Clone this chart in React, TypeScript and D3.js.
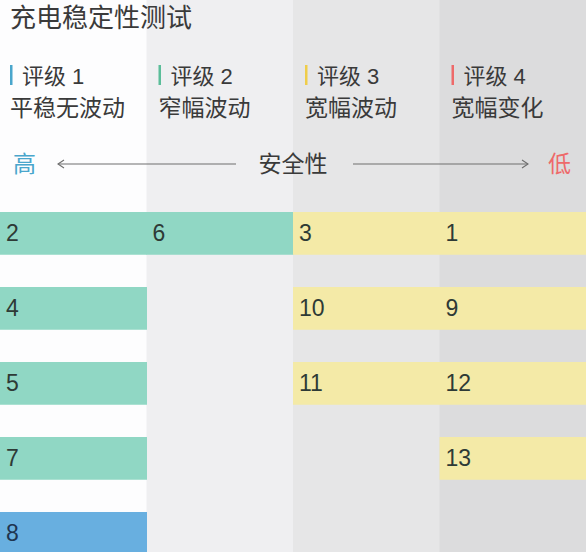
import { useEffect, useRef } from 'react';
import * as d3 from 'd3';

const title = '充电稳定性测试';
const ratings = ['评级 1', '评级 2', '评级 3', '评级 4'];
const descriptions = ['平稳无波动', '窄幅波动', '宽幅波动', '宽幅变化'];
const markerColors = ['#4aa6cc', '#5bbd99', '#efcd4a', '#ee6a6a'];
const columnBg = ['#fdfdfe', '#efeff1', '#e6e6e7', '#dcdcdd'];

// phone number per cell (null = empty), rows top to bottom
const cellValues: (number | null)[][] = [
  [2, 6, 3, 1],
  [4, null, 10, 9],
  [5, null, 11, 12],
  [7, null, null, 13],
  [8, null, null, null],
];
// g = green, y = yellow, b = blue
const cellTones: (string | null)[][] = [
  ['g', 'g', 'y', 'y'],
  ['g', null, 'y', 'y'],
  ['g', null, 'y', 'y'],
  ['g', null, null, 'y'],
  ['b', null, null, null],
];
const toneColor: Record<string, string> = { g: '#90d7c4', y: '#f4eaa7', b: '#68afe0' };

const width = 586;
const height = 552;
const font = '"Liberation Sans", "Noto Sans CJK SC", sans-serif';

export default function App() {
  const svgRef = useRef<SVGSVGElement>(null);

  useEffect(() => {
    if (!svgRef.current) return;
    const svg = d3.select(svgRef.current);
    svg.selectAll('*').remove();

    const rowPad = 0.43;
    const rowStep = 75;
    const x = d3.scaleBand<number>().domain(d3.range(4)).range([0, width]);
    const y = d3.scaleBand<number>()
      .domain(d3.range(cellValues.length))
      .range([212, 212 + rowStep * (cellValues.length - rowPad)])
      .paddingInner(rowPad)
      .paddingOuter(0);

    // column backgrounds
    svg.append('g')
      .selectAll('rect')
      .data(columnBg)
      .enter()
      .append('rect')
      .attr('x', (d, i) => x(i) || 0)
      .attr('y', 0)
      .attr('width', x.bandwidth() + 0.5)
      .attr('height', height)
      .attr('fill', d => d);

    // title
    svg.append('text')
      .attr('x', 10)
      .attr('y', 27)
      .attr('font-size', 26)
      .attr('fill', '#3a3a3a')
      .style('font-family', font)
      .text(title);

    // legend
    const legend = svg.append('g')
      .selectAll('g')
      .data(ratings)
      .enter()
      .append('g')
      .attr('transform', (d, i) => `translate(${(x(i) || 0) + (i === 0 ? 10 : 12)}, 0)`);

    legend.append('rect')
      .attr('x', 0)
      .attr('y', 65)
      .attr('width', 2.5)
      .attr('height', 20)
      .attr('fill', (d, i) => markerColors[i]);

    legend.append('text')
      .attr('x', 12)
      .attr('y', 84)
      .attr('font-size', 22)
      .attr('fill', '#3a3a3a')
      .style('font-family', font)
      .text(d => d);

    legend.append('text')
      .attr('x', 0)
      .attr('y', 116)
      .attr('font-size', 23)
      .attr('fill', '#3a3a3a')
      .style('font-family', font)
      .text((d, i) => descriptions[i]);

    // safety axis
    const axisY = 164;
    svg.append('text')
      .attr('x', 13)
      .attr('y', 172)
      .attr('font-size', 23)
      .attr('fill', '#4aa6cc')
      .style('font-family', font)
      .text('高');
    svg.append('text')
      .attr('x', 571)
      .attr('y', 172)
      .attr('text-anchor', 'end')
      .attr('font-size', 23)
      .attr('fill', '#ee6a6a')
      .style('font-family', font)
      .text('低');
    svg.append('text')
      .attr('x', 293)
      .attr('y', 172)
      .attr('text-anchor', 'middle')
      .attr('font-size', 23)
      .attr('fill', '#3a3a3a')
      .style('font-family', font)
      .text('安全性');

    const arrows = svg.append('g')
      .attr('stroke', '#6e6e6e')
      .attr('stroke-width', 1.1)
      .attr('fill', 'none');
    arrows.append('line').attr('x1', 58).attr('x2', 236).attr('y1', axisY).attr('y2', axisY);
    arrows.append('path').attr('d', `M64,${axisY - 4}L58,${axisY}L64,${axisY + 4}`);
    arrows.append('line').attr('x1', 353).attr('x2', 528).attr('y1', axisY).attr('y2', axisY);
    arrows.append('path').attr('d', `M522,${axisY - 4}L528,${axisY}L522,${axisY + 4}`);

    // cells
    const cells = cellValues.flatMap((row, r) =>
      row.map((v, c) => ({ r, c, v, tone: cellTones[r][c] }))
    ).filter(d => d.v !== null);

    svg.append('g')
      .selectAll('rect')
      .data(cells)
      .enter()
      .append('rect')
      .attr('x', d => x(d.c) || 0)
      .attr('y', d => y(d.r) || 0)
      .attr('width', x.bandwidth() + 0.5)
      .attr('height', y.bandwidth())
      .attr('fill', d => toneColor[d.tone || 'g']);

    svg.append('g')
      .selectAll('text')
      .data(cells)
      .enter()
      .append('text')
      .attr('x', d => (x(d.c) || 0) + 6)
      .attr('y', d => (y(d.r) || 0) + 29)
      .attr('font-size', 23)
      .attr('fill', d => (d.tone === 'b' ? '#1f3550' : '#2e3a36'))
      .style('font-family', font)
      .text(d => String(d.v));
  }, []);

  return (
    <div style={{ position: 'absolute', left: 0, top: 0 }}>
      <svg ref={svgRef} width={width} height={height} style={{ display: 'block' }} />
    </div>
  );
}
